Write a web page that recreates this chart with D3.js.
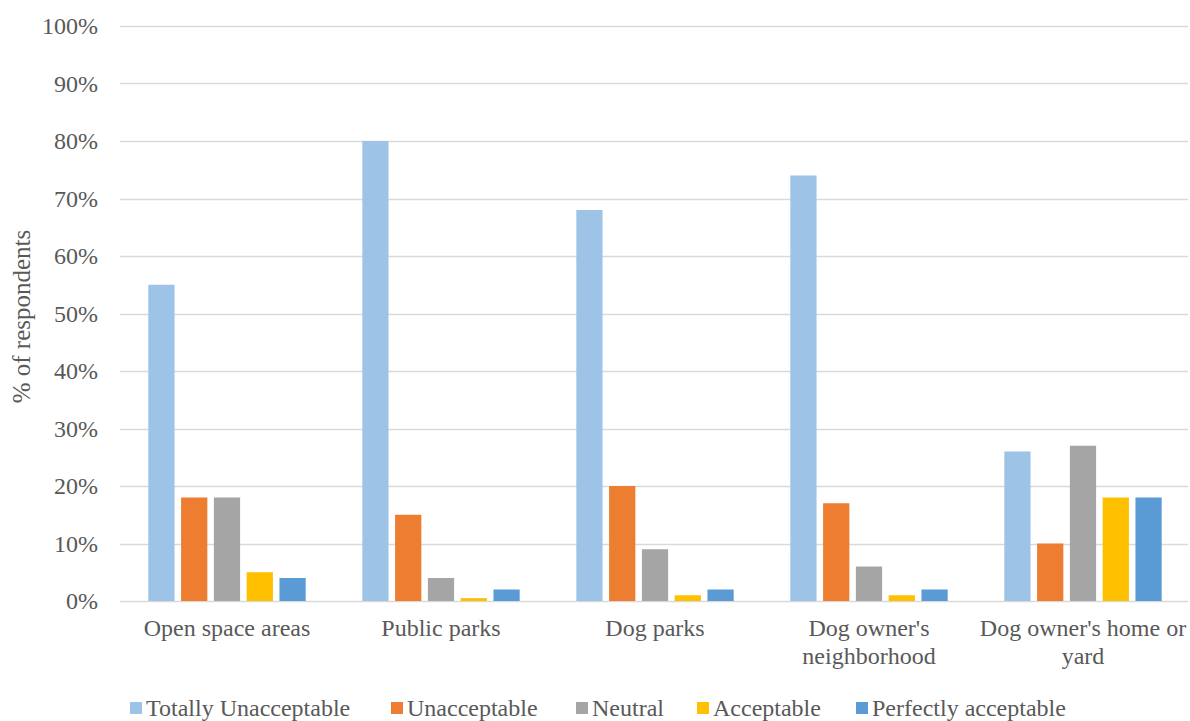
<!DOCTYPE html>
<html>
<head>
<meta charset="utf-8">
<script src="https://cdn.jsdelivr.net/npm/d3@7"></script>
<style>
  html, body { margin: 0; padding: 0; background: #fff; }
  svg { display: block; font-family: "Liberation Serif", "Times New Roman", serif; }
</style>
</head>
<body>
<svg id="chart" width="1190" height="721"></svg>
<script>
// Location categories (multi-line labels)
const categories = [
  ["Open space areas"],
  ["Public parks"],
  ["Dog parks"],
  ["Dog owner's", "neighborhood"],
  ["Dog owner's home or", "yard"]
];
const seriesNames = ["Totally Unacceptable", "Unacceptable", "Neutral", "Acceptable", "Perfectly acceptable"];
const seriesColors = ["#9DC3E6", "#ED7D31", "#A5A5A5", "#FFC000", "#5B9BD5"];

// Percent of respondents per series, one value per category
const totallyUnacceptable = [55, 80, 68, 74, 26];
const unacceptable        = [18, 15, 20, 17, 10];
const neutral             = [18, 4, 9, 6, 27];
const acceptable          = [5, 0.5, 1, 1, 18];
const perfectlyAcceptable = [4, 2, 2, 2, 18];
const seriesValues = [totallyUnacceptable, unacceptable, neutral, acceptable, perfectlyAcceptable];

const yTicks = [0, 10, 20, 30, 40, 50, 60, 70, 80, 90, 100];

const svg = d3.select("#chart");
const W = 1190, H = 721;
const margin = { left: 120, right: 0, top: 26, bottom: 120 };
const plotW = W - margin.left - margin.right;
const plotH = H - margin.top - margin.bottom;
const textColor = "#595959";
const fontSize = 24;

const g = svg.append("g").attr("transform", `translate(${margin.left},${margin.top})`);

const x0 = d3.scaleBand().domain(d3.range(categories.length)).range([0, plotW])
  .paddingInner(0.234).paddingOuter(0.117);
const x1 = d3.scaleBand().domain(d3.range(seriesNames.length)).range([0, x0.bandwidth()])
  .paddingInner(0.2).paddingOuter(0.1);
const y = d3.scaleLinear().domain([0, 100]).range([plotH, 0]);

// Gridlines
g.append("g")
  .selectAll("line")
  .data(yTicks)
  .join("line")
  .attr("x1", 0).attr("x2", plotW - 2)
  .attr("y1", d => Math.round(y(d)) + 0.5).attr("y2", d => Math.round(y(d)) + 0.5)
  .attr("stroke", "#d9d9d9").attr("stroke-width", d => d === 0 ? 1.5 : 1.3);

// Y axis labels
const yAxis = d3.axisLeft(y).tickValues(yTicks).tickFormat(d => d + "%").tickSize(0).tickPadding(22);
g.append("g").call(yAxis)
  .call(s => s.select(".domain").remove())
  .selectAll("text")
  .attr("fill", textColor).attr("font-size", fontSize)
  .attr("font-family", "Liberation Serif, Times New Roman, serif");

// Bars
const groups = g.append("g").selectAll("g")
  .data(categories.map((c, i) => i))
  .join("g")
  .attr("transform", i => `translate(${x0(i)},0)`);

groups.selectAll("rect")
  .data(i => seriesValues.map((vals, s) => ({ s, v: vals[i] })))
  .join("rect")
  .attr("x", d => x1(d.s))
  .attr("width", x1.bandwidth())
  .attr("y", d => y(d.v))
  .attr("height", d => y(0) - y(d.v))
  .attr("fill", d => seriesColors[d.s]);

// Category labels
const catG = g.append("g").attr("transform", `translate(0,${plotH})`);
categories.forEach((lines, i) => {
  const cx = x0(i) + x0.bandwidth() / 2;
  const t = catG.append("text")
    .attr("text-anchor", "middle")
    .attr("fill", textColor).attr("font-size", fontSize);
  lines.forEach((ln, k) => {
    t.append("tspan").attr("x", cx).attr("y", 35 + k * 28).text(ln);
  });
});

// Y axis title
svg.append("text")
  .attr("transform", `translate(30,${margin.top + plotH / 2 + 3}) rotate(-90)`)
  .attr("text-anchor", "middle")
  .attr("fill", textColor).attr("font-size", 25)
  .text("% of respondents");

// Legend
const legendX = [130, 391, 576, 697, 856];
const legend = svg.append("g").attr("transform", "translate(0,716)");
seriesNames.forEach((name, s) => {
  legend.append("rect")
    .attr("x", legendX[s]).attr("y", -14)
    .attr("width", 12).attr("height", 12)
    .attr("fill", seriesColors[s]);
  legend.append("text")
    .attr("x", legendX[s] + 16).attr("y", 0)
    .attr("fill", textColor).attr("font-size", fontSize)
    .text(name);
});
</script>
</body>
</html>
